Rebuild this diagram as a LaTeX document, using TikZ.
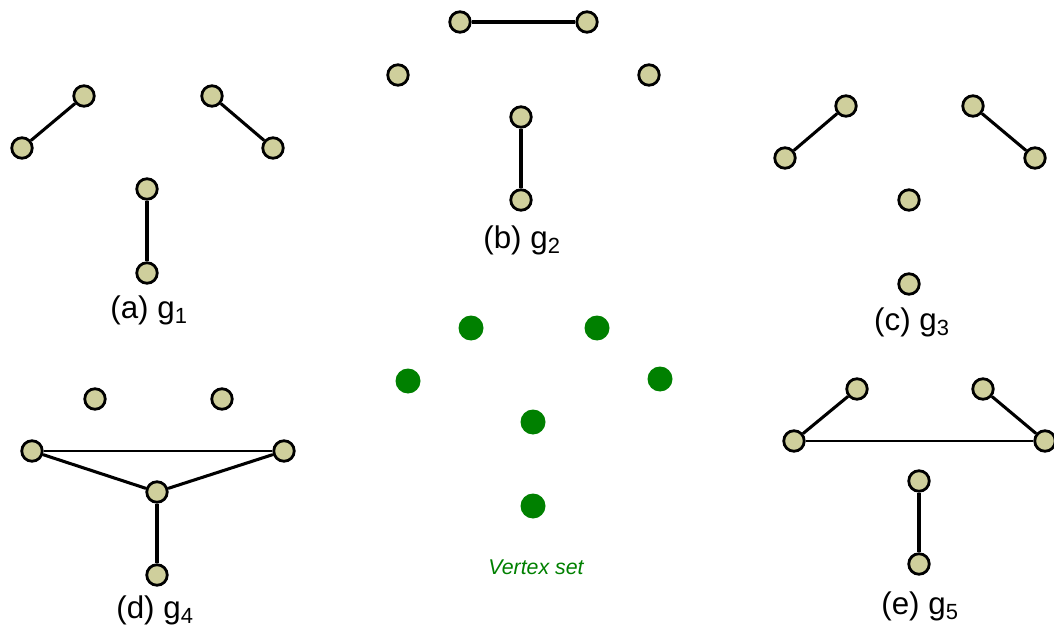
\documentclass[tikz,border=0pt]{standalone}
\usepackage{fontspec}
\setmainfont{Liberation Sans}
\definecolor{vfill}{HTML}{CFCF9C}
\definecolor{vgreen}{HTML}{008000}
\begin{document}
\begin{tikzpicture}[x=0.75pt,y=-0.75pt,
  vtx/.style={circle,draw=black,fill=vfill,line width=2.1pt,minimum size=15.4pt,inner sep=0pt},
  gvtx/.style={circle,fill=vgreen,minimum size=18.75pt,inner sep=0pt},
  heavyedge/.style={line width=2.3pt},
  lightedge/.style={line width=1pt},
  caplabel/.style={font=\fontsize{23.5}{27}\selectfont,inner sep=0pt}]
\useasboundingbox (0,0) rectangle (1054,631);

% (a) g1
\node[vtx] (a1) at (22,148) {};
\node[vtx] (a2) at (84,96) {};
\node[vtx] (a3) at (212,96) {};
\node[vtx] (a4) at (273,148) {};
\node[vtx] (a5) at (147,189) {};
\node[vtx] (a6) at (147,273) {};
\draw[heavyedge] (a1) -- (a2);
\draw[heavyedge] (a3) -- (a4);
\draw[heavyedge] (a5) -- (a6);
\node[caplabel] (la) at (149,310) {(a) g\textsubscript{1}};

% (b) g2
\node[vtx] (b1) at (460,22) {};
\node[vtx] (b2) at (587,22) {};
\node[vtx] (b3) at (398,75) {};
\node[vtx] (b4) at (649,75) {};
\node[vtx] (b5) at (521,117) {};
\node[vtx] (b6) at (521,200) {};
\draw[heavyedge] (b1) -- (b2);
\draw[heavyedge] (b5) -- (b6);
\node[caplabel] (lb) at (522,240) {(b) g\textsubscript{2}};

% (c) g3
\node[vtx] (c1) at (785,158) {};
\node[vtx] (c2) at (846,106) {};
\node[vtx] (c3) at (973,106) {};
\node[vtx] (c4) at (1035,158) {};
\node[vtx] (c5) at (909,200) {};
\node[vtx] (c6) at (909,284) {};
\draw[heavyedge] (c1) -- (c2);
\draw[heavyedge] (c3) -- (c4);
\node[caplabel] (lc) at (912,322) {(c) g\textsubscript{3}};

% (d) g4
\node[vtx] (d1) at (95,399) {};
\node[vtx] (d2) at (222,399) {};
\node[vtx] (d3) at (32,451) {};
\node[vtx] (d4) at (284,451) {};
\node[vtx] (d5) at (157,492) {};
\node[vtx] (d6) at (157,575) {};
\draw[lightedge] (d3) -- (d4);
\draw[heavyedge] (d3) -- (d5);
\draw[heavyedge] (d4) -- (d5);
\draw[heavyedge] (d5) -- (d6);
\node[caplabel] (ld) at (155,610) {(d) g\textsubscript{4}};

% (e) g5
\node[vtx] (e1) at (857,389) {};
\node[vtx] (e2) at (983,389) {};
\node[vtx] (e3) at (794,441) {};
\node[vtx] (e4) at (1045,441) {};
\node[vtx] (e5) at (919,481) {};
\node[vtx] (e6) at (919,564) {};
\draw[heavyedge] (e3) -- (e1);
\draw[heavyedge] (e2) -- (e4);
\draw[lightedge] (e3) -- (e4);
\draw[heavyedge] (e5) -- (e6);
\node[caplabel] (le) at (920,606) {(e) g\textsubscript{5}};

% shared vertex set
\node[gvtx] (v1) at (471,328) {};
\node[gvtx] (v2) at (597,328) {};
\node[gvtx] (v3) at (408,381) {};
\node[gvtx] (v4) at (660,379) {};
\node[gvtx] (v5) at (533,422) {};
\node[gvtx] (v6) at (533,506) {};
\node[font=\fontsize{16}{19}\selectfont\itshape,text=vgreen,inner sep=0pt] (lv) at (536,567) {Vertex set};
\end{tikzpicture}
\end{document}
